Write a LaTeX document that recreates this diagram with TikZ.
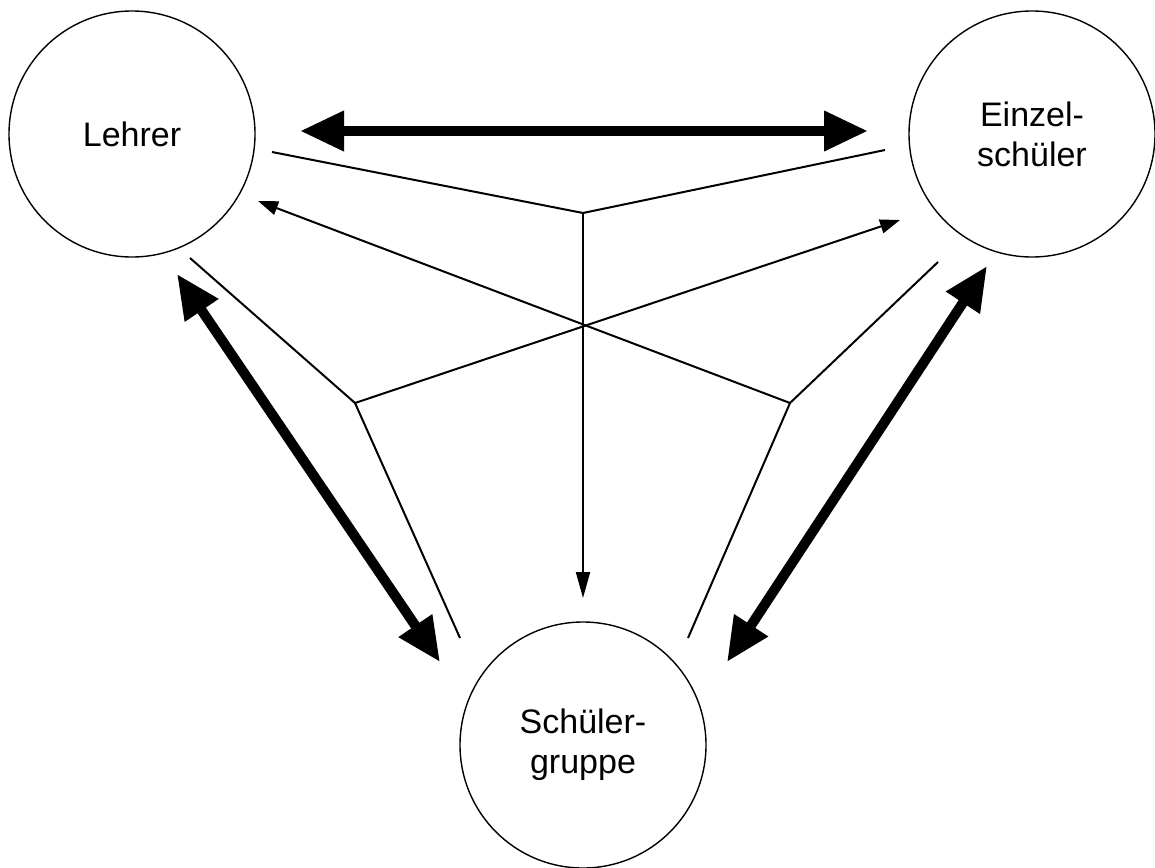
\documentclass[tikz,border=0pt]{standalone}
\usepackage{fontspec}
\setmainfont{Liberation Sans}
\usetikzlibrary{arrows.meta}
\begin{document}
\begin{tikzpicture}[x=0.5pt,y=-0.5pt,
  role/.style={circle,draw,line width=0.7pt,minimum size=123pt,inner sep=0pt,
    align=center,font=\fontsize{17}{20}\selectfont},
  thin/.style={line width=1pt},
  thinarrow/.style={thin,-{Triangle[length=10pt,width=7pt]}},
  bigarrow/.style={line width=5pt,{Triangle[length=22pt,width=19pt]}-{Triangle[length=22pt,width=19pt]}}]
\useasboundingbox (0,0) rectangle (1155,867);
\fill[white] (0,0) rectangle (1155,867);

% the three parties
\node[role] (L) at (132,134) {Lehrer};
\node[role] (E) at (1032,134) {Einzel-\\schüler};
\node[role] (S) at (583,745) {Schüler-\\gruppe};

% end points and junctions of the connectors
\coordinate (ltA) at (300,131);
\coordinate (ltB) at (868,131);
\coordinate (lsA) at (177,274);
\coordinate (lsB) at (440,662);
\coordinate (esA) at (987,266);
\coordinate (esB) at (727,662);

\coordinate (topL) at (272,152);
\coordinate (topR) at (885,150);
\coordinate (jT) at (583,213);
\coordinate (jTend) at (583,598);

\coordinate (leftU) at (190,258);
\coordinate (jL) at (355,403);
\coordinate (leftD) at (460,638);

\coordinate (rightU) at (938,262);
\coordinate (jR) at (790,403);
\coordinate (rightD) at (688,638);

\coordinate (tipL) at (258,201);
\coordinate (tipE) at (900,220);

% direct two-way relations
\draw[bigarrow] (ltA) -- (ltB);
\draw[bigarrow] (lsA) -- (lsB);
\draw[bigarrow] (esA) -- (esB);

% merging influences
\draw[thin] (topL) -- (jT) -- (topR);
\draw[thinarrow,-{Triangle[length=13pt,width=7pt]}] (jT) -- (jTend);

\draw[thin] (leftU) -- (jL) -- (leftD);
\draw[thinarrow] (jL) -- (tipE);

\draw[thin] (rightU) -- (jR) -- (rightD);
\draw[thinarrow] (jR) -- (tipL);
\end{tikzpicture}
\end{document}
